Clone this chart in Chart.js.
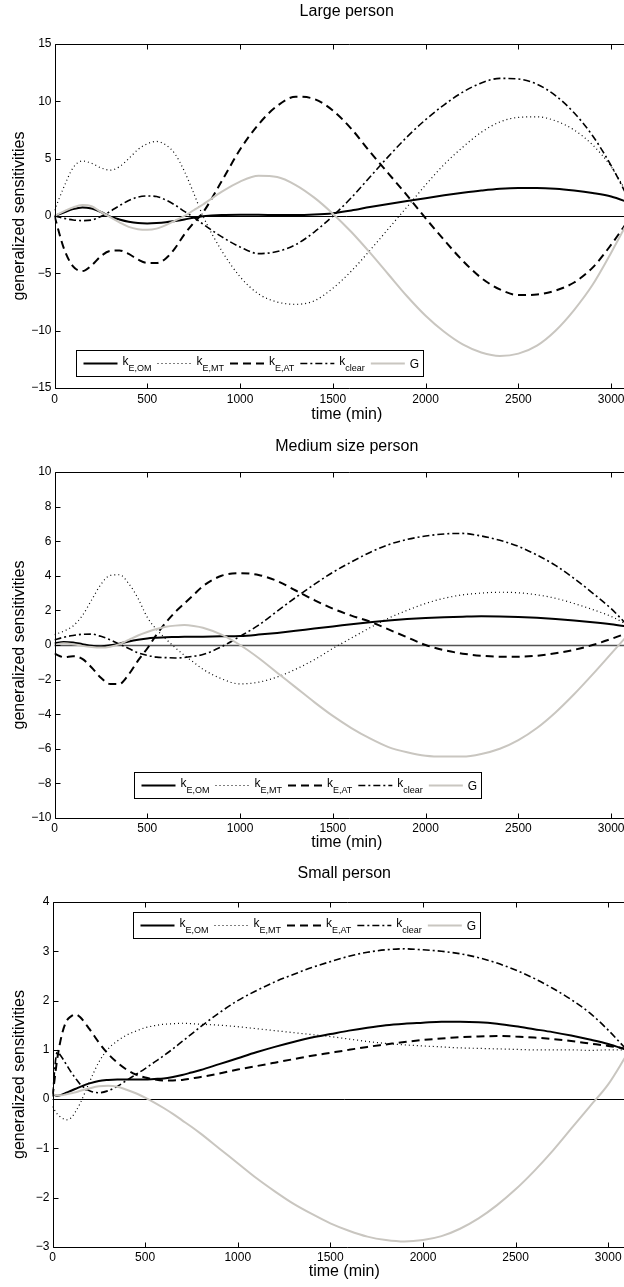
<!DOCTYPE html>
<html>
<head>
<meta charset="utf-8">
<script src="https://cdn.jsdelivr.net/npm/chart.js@4.4.1/dist/chart.umd.min.js"></script>
<style>
  html, body { margin: 0; padding: 0; background: #fff; }
  #fig { position: relative; width: 624px; height: 1287px; overflow: hidden; background: #fff; }
  #fig canvas { position: absolute; left: 0; }
</style>
</head>
<body>
<div id="fig">
  <canvas id="large"  width="660" height="424" style="top:0px;width:660px;height:424px"></canvas>
  <canvas id="medium" width="660" height="428" style="top:428px;width:660px;height:428px"></canvas>
  <canvas id="small"  width="660" height="431" style="top:856px;width:660px;height:431px"></canvas>
</div>
<script>
// ---- time grids (min) ----
const minutesLarge  = [0,50,100,150,200,250,300,350,400,450,500,550,600,650,700,750,800,
                       900,1000,1100,1200,1300,1400,1500,1600,1700,1800,1900,2000,2100,2200,
                       2300,2400,2500,2600,2700,2800,2900,3000,3100];
const minutesMedium = minutesLarge;
const minutesSmall  = [0,25,50,75,100,125,150,200,250,300,350,400,450,500,550,600,650,700,750,800,
                       900,1000,1100,1200,1300,1400,1500,1600,1700,1800,1900,2000,2100,2200,
                       2300,2400,2500,2600,2700,2800,2900,3000,3100];

// ---- large person ----
const kEOM_large   = [0,0.3,0.6,0.75,0.65,0.35,-0.05,-0.3,-0.5,-0.62,-0.65,-0.62,-0.55,-0.43,-0.3,-0.15,-0.03,
                      0.08,0.1,0.1,0.08,0.08,0.13,0.25,0.48,0.78,1.05,1.3,1.55,1.8,2.02,2.22,2.38,2.45,2.45,2.38,2.22,2.0,1.7,1.15];
const kEMT_large   = [0.5,2.5,4.2,4.8,4.6,4.2,4.0,4.3,5.0,5.8,6.3,6.5,6.2,5.4,3.9,2.0,0.0,
                      -3.0,-5.3,-6.8,-7.5,-7.7,-7.4,-6.3,-4.8,-3.0,-1.1,0.8,2.7,4.5,6.0,7.3,8.2,8.6,8.65,8.3,7.5,6.2,4.3,1.6];
const kEAT_large   = [0,-2.8,-4.4,-4.8,-4.3,-3.5,-3.05,-3.0,-3.3,-3.8,-4.1,-4.1,-3.7,-2.8,-1.6,-0.6,0.3,
                      3.0,5.8,8.0,9.6,10.4,10.2,9.2,7.6,5.6,3.7,1.8,-0.2,-2.1,-3.9,-5.4,-6.4,-6.9,-6.85,-6.5,-5.8,-4.5,-2.5,-0.2];
const kClear_large = [0,-0.2,-0.35,-0.4,-0.35,-0.05,0.4,0.9,1.35,1.65,1.75,1.7,1.4,0.95,0.4,-0.1,-0.7,
                      -1.8,-2.7,-3.28,-3.1,-2.5,-1.4,0.0,1.6,3.4,5.2,6.9,8.4,9.7,10.8,11.6,12.0,11.95,11.5,10.5,9.0,7.0,4.4,1.3];
const G_large      = [0,0.4,0.75,0.95,0.85,0.35,-0.1,-0.55,-0.95,-1.15,-1.2,-1.1,-0.8,-0.4,0.0,0.5,1.0,
                      2.1,3.0,3.5,3.4,2.7,1.6,0.2,-1.4,-3.2,-5.1,-7.0,-8.7,-10.1,-11.2,-11.9,-12.2,-12.0,-11.3,-10.0,-8.2,-6.0,-3.2,-0.2];

// ---- medium size person ----
const kEOM_medium   = [0.1,0.18,0.15,0.05,-0.05,-0.08,-0.02,0.08,0.2,0.3,0.38,0.42,0.45,0.46,0.47,0.47,0.48,
                       0.5,0.52,0.6,0.7,0.82,0.95,1.07,1.2,1.32,1.42,1.5,1.56,1.61,1.64,1.66,1.65,1.62,1.57,1.5,1.42,1.32,1.2,1.05];
const kEMT_medium   = [0.6,0.8,1.1,1.7,2.6,3.5,4.02,4.06,3.55,2.7,1.6,0.9,0.35,-0.15,-0.6,-1.0,-1.4,
                       -1.95,-2.25,-2.15,-1.85,-1.4,-0.85,-0.2,0.4,1.0,1.55,2.0,2.4,2.7,2.9,3.0,3.05,3.02,2.9,2.7,2.4,2.05,1.65,1.1];
const kEAT_medium   = [-0.5,-0.7,-0.65,-0.8,-1.3,-1.9,-2.25,-2.25,-1.7,-0.9,-0.2,0.6,1.3,1.9,2.4,2.9,3.4,
                       4.0,4.15,4.05,3.7,3.15,2.6,2.1,1.7,1.35,0.9,0.45,0.0,-0.3,-0.5,-0.62,-0.68,-0.68,-0.62,-0.48,-0.28,0.0,0.35,0.75];
const kClear_medium = [0.3,0.45,0.55,0.62,0.63,0.5,0.3,0.05,-0.2,-0.45,-0.6,-0.7,-0.73,-0.75,-0.72,-0.65,-0.55,
                       -0.1,0.5,1.15,1.95,2.75,3.5,4.2,4.8,5.35,5.8,6.1,6.3,6.42,6.45,6.3,6.05,5.7,5.2,4.6,3.85,3.0,2.1,1.0];
const G_medium      = [0,0.1,0.05,-0.05,-0.12,-0.15,-0.1,0.05,0.3,0.55,0.75,0.92,1.05,1.12,1.15,1.1,1.0,
                       0.6,0.0,-0.75,-1.6,-2.45,-3.3,-4.1,-4.8,-5.4,-5.9,-6.2,-6.4,-6.45,-6.45,-6.3,-6.0,-5.5,-4.8,-3.9,-2.85,-1.7,-0.5,0.7];

// ---- small person ----
const kEOM_small   = [0.1,0.07,0.09,0.13,0.17,0.21,0.25,
                      0.32,0.37,0.39,0.4,0.4,0.4,0.4,0.41,0.42,0.45,0.49,0.54,0.59,
                      0.71,0.83,0.95,1.06,1.16,1.25,1.32,1.39,1.45,1.5,1.53,1.55,1.57,1.57,1.56,1.53,1.48,1.42,1.36,1.29,1.21,1.12,1.0];
const kEMT_small   = [-0.15,-0.3,-0.38,-0.42,-0.38,-0.25,-0.08,
                      0.35,0.75,1.02,1.18,1.3,1.38,1.45,1.49,1.52,1.53,1.54,1.53,1.52,
                      1.5,1.47,1.43,1.39,1.35,1.31,1.27,1.22,1.17,1.13,1.1,1.08,1.06,1.04,1.03,1.02,1.01,1.0,1.0,1.0,0.99,1.0,1.0];
const kEAT_small   = [0.05,0.8,1.3,1.58,1.68,1.72,1.66,
                      1.42,1.15,0.92,0.74,0.6,0.5,0.44,0.4,0.38,0.38,0.39,0.42,0.45,
                      0.52,0.6,0.67,0.74,0.81,0.88,0.94,1.0,1.06,1.11,1.16,1.2,1.23,1.26,1.27,1.28,1.27,1.25,1.22,1.18,1.13,1.08,1.02];
const kClear_small = [0.1,0.95,0.85,0.7,0.55,0.42,0.3,
                      0.17,0.13,0.17,0.26,0.38,0.5,0.62,0.75,0.88,1.02,1.17,1.32,1.47,
                      1.75,2.0,2.2,2.38,2.53,2.67,2.79,2.9,2.98,3.03,3.05,3.03,3.0,2.95,2.87,2.76,2.62,2.45,2.25,2.02,1.75,1.4,1.0];
const G_small      = [0.1,0.08,0.08,0.1,0.12,0.14,0.17,
                      0.22,0.26,0.27,0.25,0.19,0.12,0.03,-0.07,-0.18,-0.3,-0.43,-0.56,-0.7,
                      -1.0,-1.3,-1.6,-1.87,-2.12,-2.33,-2.52,-2.67,-2.79,-2.86,-2.89,-2.86,-2.78,-2.63,-2.42,-2.15,-1.83,-1.46,-1.05,-0.6,-0.15,0.3,0.9];

// ---- axis ticks ----
const xTickValues       = [0, 500, 1000, 1500, 2000, 2500, 3000];
const yTickValuesLarge  = [-15, -10, -5, 0, 5, 10, 15];
const yTickValuesMedium = [-10, -8, -6, -4, -2, 0, 2, 4, 6, 8, 10];
const yTickValuesSmall  = [-3, -2, -1, 0, 1, 2, 3, 4];
const zeroLineValue = 0;

// legend text: main symbol + subscript
const legendMain = ['k', 'k', 'k', 'k', 'G'];
const legendSub  = ['E,OM', 'E,MT', 'E,AT', 'clear', ''];

const FAMILY = '"Liberation Sans", Arial, Helvetica, sans-serif';
Chart.defaults.font.family = FAMILY;
Chart.defaults.color = '#000';

const STYLES = [
  { borderColor: '#000000', borderWidth: 2,   borderDash: [] },           // k_E,OM
  { borderColor: '#000000', borderWidth: 1.2, borderDash: [1, 3] },       // k_E,MT
  { borderColor: '#000000', borderWidth: 2,   borderDash: [8, 5] },       // k_E,AT
  { borderColor: '#000000', borderWidth: 1.6, borderDash: [7, 3, 2, 3] }, // k_clear
  { borderColor: '#c9c6c0', borderWidth: 2,   borderDash: [] }            // G
];

function toPoints(xs, ys) { return xs.map((x, i) => ({ x, y: ys[i] })); }

function buildDatasets(minutes, seriesList) {
  return seriesList.map((vals, i) => Object.assign({
    data: toPoints(minutes, vals),
    pointRadius: 0,
    fill: false,
    cubicInterpolationMode: 'monotone',
    borderCapStyle: 'butt',
    order: 5 - i
  }, STYLES[i]));
}

// zero reference line, axes frame, inward tick marks and the boxed legend
const matlabFrame = {
  id: 'matlabFrame',
  beforeDatasetsDraw(chart, args, o) {
    const { ctx, chartArea: a, scales: { y } } = chart;
    const py = Math.round(y.getPixelForValue(zeroLineValue)) + 0.5;
    ctx.save();
    ctx.strokeStyle = o.zeroColor;
    ctx.lineWidth = o.zeroWidth;
    ctx.beginPath(); ctx.moveTo(a.left, py); ctx.lineTo(a.right, py); ctx.stroke();
    ctx.restore();
  },
  afterDatasetsDraw(chart, args, o) {
    const { ctx, chartArea: a, scales: { x, y } } = chart;
    ctx.save();
    ctx.setLineDash([]);
    ctx.strokeStyle = '#000';
    ctx.lineWidth = 1;
    const L = Math.round(a.left) + 0.5, T = Math.round(a.top) + 0.5, B = Math.round(a.bottom) + 0.5;
    ctx.beginPath();
    ctx.moveTo(a.right + 5, T); ctx.lineTo(L, T); ctx.lineTo(L, B); ctx.lineTo(a.right + 5, B);
    ctx.stroke();
    ctx.beginPath();
    x.ticks.forEach((t, i) => {
      const px = Math.round(x.getPixelForTick(i)) + 0.5;
      ctx.moveTo(px, B); ctx.lineTo(px, B - 5);
      ctx.moveTo(px, T); ctx.lineTo(px, T + 5);
    });
    y.ticks.forEach((t, i) => {
      const py = Math.round(y.getPixelForTick(i)) + 0.5;
      ctx.moveTo(L, py); ctx.lineTo(L + 5, py);
    });
    ctx.stroke();

    // legend
    const series = chart.data.datasets;
    const pad = 7, sampleLen = 34, gapIn = 5, gapOut = 6, h = 26;
    const mainFont = '12px ' + FAMILY, subFont = '9px ' + FAMILY;
    const items = series.map((d, i) => {
      ctx.font = mainFont; const mw = ctx.measureText(legendMain[i]).width;
      ctx.font = subFont;  const sw = legendSub[i] ? ctx.measureText(legendSub[i]).width : 0;
      return { d, mw, sw };
    });
    let w = pad + 4;
    items.forEach((it, i) => { w += sampleLen + gapIn + it.mw + it.sw + (i < items.length - 1 ? gapOut : 0); });
    w = Math.round(w);
    const left = Math.round(a.left + o.offsetX) + 0.5;
    const top = Math.round(o.fromTop ? a.top + o.offsetY : a.bottom - o.offsetY - h) + 0.5;
    ctx.fillStyle = '#fff';
    ctx.fillRect(left, top, w, h);
    ctx.strokeStyle = '#000';
    ctx.lineWidth = 1;
    ctx.strokeRect(left, top, w, h);
    const cy = top + h / 2;
    let xx = left + pad;
    items.forEach((it, i) => {
      ctx.save();
      ctx.strokeStyle = it.d.borderColor;
      ctx.lineWidth = it.d.borderWidth;
      ctx.setLineDash(it.d.borderDash || []);
      ctx.beginPath(); ctx.moveTo(xx, cy); ctx.lineTo(xx + sampleLen, cy); ctx.stroke();
      ctx.restore();
      xx += sampleLen + gapIn;
      ctx.fillStyle = '#000';
      ctx.textAlign = 'left';
      ctx.textBaseline = 'alphabetic';
      ctx.font = mainFont;
      if (legendSub[i]) {
        ctx.fillText(legendMain[i], xx, cy + 1);
        ctx.font = subFont;
        ctx.fillText(legendSub[i], xx + it.mw, cy + 7);
      } else {
        ctx.fillText(legendMain[i], xx, cy + 4.5);
      }
      xx += it.mw + it.sw + gapOut;
    });
    ctx.restore();
  }
};

function fmtTick(v) { return v < 0 ? '\u2212' + Math.abs(v) : String(v); }

function makeChart(id, p) {
  return new Chart(document.getElementById(id), {
    type: 'line',
    data: { datasets: p.datasets },
    plugins: [matlabFrame],
    options: {
      responsive: false,
      devicePixelRatio: 1,
      animation: false,
      events: [],
      layout: { padding: { left: 0, top: 0, right: p.padRight, bottom: 0 } },
      plugins: {
        legend: { display: false },
        tooltip: { enabled: false },
        title: {
          display: true, text: p.title, fullSize: false, color: '#000',
          font: { size: 16, weight: 'normal' },
          padding: { top: p.titleTop, bottom: p.titleBottom }
        },
        matlabFrame: p.frame
      },
      scales: {
        x: {
          type: 'linear', min: 0, max: 3150,
          afterBuildTicks(s) { s.ticks = xTickValues.map(value => ({ value })); },
          ticks: { padding: p.xTickPad, color: '#000', font: { size: 12 },
                   maxRotation: 0, minRotation: 0, autoSkip: false, callback: v => String(v) },
          grid: { display: false, drawTicks: false },
          border: { display: false },
          title: { display: true, text: 'time (min)', color: '#000', font: { size: 16 },
                   padding: { top: 0, bottom: p.xTitlePad } },
          afterFit(s) { s.height = p.xHeight; }
        },
        y: {
          type: 'linear', min: p.yTicks[0], max: p.yTicks[p.yTicks.length - 1],
          afterBuildTicks(s) { s.ticks = p.yTicks.map(value => ({ value })); },
          ticks: { padding: 3, color: '#000', font: { size: 12 }, autoSkip: false, callback: fmtTick },
          grid: { display: false, drawTicks: false },
          border: { display: false },
          title: { display: true, text: 'generalized sensitivities', color: '#000', font: { size: 16 },
                   padding: { top: 10.4, bottom: 0 } },
          afterFit(s) { s.width = p.yWidth; }
        }
      }
    }
  });
}

makeChart('large', {
  title: 'Large person',
  datasets: buildDatasets(minutesLarge, [kEOM_large, kEMT_large, kEAT_large, kClear_large, G_large]),
  yTicks: yTickValuesLarge, yWidth: 54.5, padRight: 21,
  titleTop: 2.4, titleBottom: 22.4,
  xHeight: 36, xTickPad: 4, xTitlePad: 0,
  frame: { offsetX: 21.5, offsetY: 12, fromTop: false, zeroColor: '#000', zeroWidth: 1 }
});

makeChart('medium', {
  title: 'Medium size person',
  datasets: buildDatasets(minutesMedium, [kEOM_medium, kEMT_medium, kEAT_medium, kClear_medium, G_medium]),
  yTicks: yTickValuesMedium, yWidth: 54.5, padRight: 21,
  titleTop: 9.4, titleBottom: 15.4,
  xHeight: 38, xTickPad: 3, xTitlePad: 3.4,
  frame: { offsetX: 79.5, offsetY: 20, fromTop: false, zeroColor: '#555', zeroWidth: 1.5 }
});

makeChart('small', {
  title: 'Small person',
  datasets: buildDatasets(minutesSmall, [kEOM_small, kEMT_small, kEAT_small, kClear_small, G_small]),
  yTicks: yTickValuesSmall, yWidth: 52.5, padRight: 24,
  titleTop: 8.4, titleBottom: 18.4,
  xHeight: 40, xTickPad: 3, xTitlePad: 5.4,
  frame: { offsetX: 80.5, offsetY: 10, fromTop: true, zeroColor: '#000', zeroWidth: 1 }
});
</script>
</body>
</html>
